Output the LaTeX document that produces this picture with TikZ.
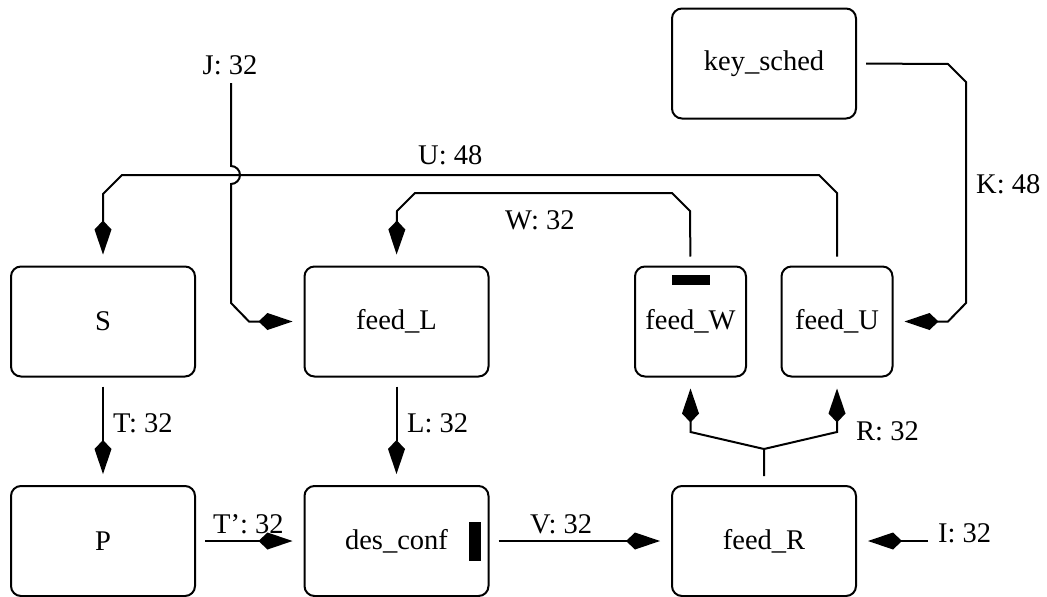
\documentclass[tikz,border=0pt]{standalone}
\usepackage{fontspec}
\setmainfont{Liberation Serif}
\usetikzlibrary{arrows.meta}
\begin{document}
\begin{tikzpicture}[x=1pt,y=-1pt,
  font=\fontsize{28.5}{34}\selectfont,
  block/.style={draw,line width=2pt,rounded corners=10pt,minimum height=110pt,inner sep=0pt},
  wide/.style={block,minimum width=184pt},
  narrow/.style={block,minimum width=111pt},
  conn/.style={line width=2pt,-{Kite[length=34pt,width=17pt,inset=9pt]},shorten <=9pt,shorten >=11pt},
  free/.style={conn,shorten <=0pt},
  lbl/.style={anchor=base west,inner sep=0pt},
  marker/.style={fill=black,draw=none}]
\useasboundingbox (0,0) rectangle (1047,597);

% blocks
\node[wide]   (keysched) at (764,63.5)  {key\_sched};
\node[wide]   (S)        at (103,321.5) {S};
\node[wide]   (feedL)    at (396.5,321.5) {feed\_L};
\node[narrow] (feedW)    at (690.5,321.5) {feed\_W};
\node[narrow] (feedU)    at (837,321.5) {feed\_U};
\node[wide]   (P)        at (103,541)   {P};
\node[wide]   (desconf)  at (396.5,541) {des\_conf};
\node[wide]   (feedR)    at (764,541)   {feed\_R};

% register marks
\fill[marker] (672,275) rectangle (710,285);
\fill[marker] (469,522) rectangle (481,561);

% free ends and junctions
\coordinate (Jin) at (231,83);
\coordinate (Iin) at (928,541);
\coordinate (Rsplit) at (764,449);

% U: 48
\draw[conn] (feedU.north) -- (837,193) -- (819,175) -- (122,175) -- (103,194) -- (S.north);
\node[lbl] (Ulbl) at (418,164) {U: 48};

% W: 32
\draw[conn] (feedW.north) -- (690,211) -- (672,193) -- (415,193) -- (397,211) -- (feedL.north);
\node[lbl] (Wlbl) at (505,229) {W: 32};

% J: 32, hopping over U
\draw[free] (Jin) -- (231,166) arc[start angle=90,end angle=-90,radius=9pt]
  -- (231,303) -- (249,321.5) -- (feedL.west);
\node[anchor=base,inner sep=0pt] (Jlbl) at (230,74) {J: 32};

% K: 48
\draw[conn] (keysched.east) -- (948,64) -- (966,82) -- (966,303) -- (948,321.5) -- (feedU.east);
\node[lbl] (Klbl) at (976,193) {K: 48};

% T: 32 and L: 32
\draw[conn] (S.south) -- (P.north);
\node[lbl] (Tlbl) at (113,432) {T: 32};
\draw[conn] (feedL.south) -- (desconf.north);
\node[lbl] (Llbl) at (407,432) {L: 32};

% T': 32 and V: 32
\draw[conn] (P.east) -- (desconf.west);
\node[lbl] (Tplbl) at (213,533) {T': 32};
\draw[conn] (desconf.east) -- (feedR.west);
\node[lbl] (Vlbl) at (530,533) {V: 32};

% I: 32
\draw[free] (Iin) -- (feedR.east);
\node[lbl] (Ilbl) at (938,542) {I: 32};

% R: 32, split to feed_W and feed_U
\draw[conn] (feedR.north) -- (Rsplit) -- (690.5,432) -- (feedW.south);
\draw[free] (Rsplit) -- (837,432) -- (feedU.south);
\node[lbl] (Rlbl) at (856,440) {R: 32};
\end{tikzpicture}
\end{document}
